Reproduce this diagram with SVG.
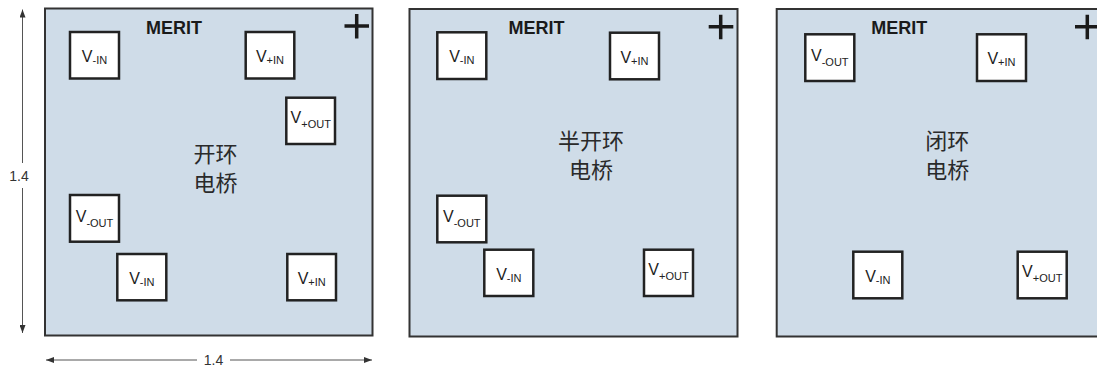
<svg xmlns="http://www.w3.org/2000/svg" width="1097" height="367" viewBox="0 0 1097 367">
<style>
.panel{fill:#cfdce8;stroke:#333;stroke-width:2}
.pad{fill:#fff;stroke:#222;stroke-width:2.5}
.lbl{font-family:"Liberation Sans",Arial,sans-serif;font-size:16px;fill:#222;text-anchor:middle}
.sub{font-size:11px}
.brand{font-family:"Liberation Sans",Arial,sans-serif;font-weight:bold;font-size:18px;fill:#1a1a1a;text-anchor:middle}
.cn{font-family:"Noto Sans CJK SC","Noto Sans",sans-serif;font-size:22px;fill:#2a2a2a;text-anchor:middle}
.plus{stroke:#1a1a1a;stroke-width:3.5;fill:none}
.dim{stroke:#555;stroke-width:1;fill:none}
.dimt{font-family:"Liberation Sans",Arial,sans-serif;font-size:14px;fill:#333;text-anchor:middle}
</style>
<defs>
<marker id="arr" viewBox="0 0 8 6" refX="8" refY="3" markerWidth="8" markerHeight="6" markerUnits="userSpaceOnUse" orient="auto-start-reverse">
<path d="M0,0 L8,3 L0,6 Z" fill="#333"/>
</marker>
</defs>

<g id="panel-open">
<rect class="panel" x="45" y="8.5" width="327.5" height="327"/>
<text class="brand" x="174" y="33.5">MERIT</text>
<path class="plus" d="M344.5,26 H369 M356.7,14 V38.5"/>
<text class="cn" x="215.5" y="162">开环<tspan x="215.5" dy="29">电桥</tspan></text>
<g id="p1-vin-top"><rect class="pad" x="70" y="32" width="49" height="46.5"/><text class="lbl" x="94.5" y="62">V<tspan class="sub" dy="2">-IN</tspan></text></g>
<g id="p1-vpin-top"><rect class="pad" x="245.7" y="32" width="48.6" height="46.5"/><text class="lbl" x="270" y="62">V<tspan class="sub" dy="2">+IN</tspan></text></g>
<g id="p1-vpout"><rect class="pad" x="286.3" y="97.7" width="48.7" height="46.3"/><text class="lbl" x="310.7" y="122.7">V<tspan class="sub" dy="5">+OUT</tspan></text></g>
<g id="p1-vout"><rect class="pad" x="70" y="195" width="49" height="46.7"/><text class="lbl" x="94.5" y="221.5">V<tspan class="sub" dy="5">-OUT</tspan></text></g>
<g id="p1-vin-bot"><rect class="pad" x="117.3" y="254" width="49" height="46.3"/><text class="lbl" x="141.8" y="284">V<tspan class="sub" dy="2">-IN</tspan></text></g>
<g id="p1-vpin-bot"><rect class="pad" x="287.3" y="254" width="48.7" height="46.3"/><text class="lbl" x="311.7" y="284">V<tspan class="sub" dy="2">+IN</tspan></text></g>
</g>

<g id="panel-half">
<rect class="panel" x="409.5" y="9" width="328" height="327.5"/>
<text class="brand" x="536.5" y="33.5">MERIT</text>
<path class="plus" d="M708.7,26.7 H733.3 M720.7,14.7 V39.3"/>
<text class="cn" x="591" y="148.5">半开环<tspan x="591" dy="29">电桥</tspan></text>
<g id="p2-vin-top"><rect class="pad" x="437.3" y="32.3" width="49" height="46.7"/><text class="lbl" x="461.8" y="62.3">V<tspan class="sub" dy="2">-IN</tspan></text></g>
<g id="p2-vpin-top"><rect class="pad" x="610" y="32.7" width="49" height="46.6"/><text class="lbl" x="634.5" y="62.7">V<tspan class="sub" dy="2">+IN</tspan></text></g>
<g id="p2-vout"><rect class="pad" x="437.3" y="195.7" width="49" height="46.6"/><text class="lbl" x="461.8" y="222">V<tspan class="sub" dy="5">-OUT</tspan></text></g>
<g id="p2-vin-bot"><rect class="pad" x="484.3" y="249.7" width="49" height="46.3"/><text class="lbl" x="508.8" y="279.7">V<tspan class="sub" dy="2">-IN</tspan></text></g>
<g id="p2-vpout-bot"><rect class="pad" x="644" y="249.7" width="49" height="46.3"/><text class="lbl" x="668.5" y="275">V<tspan class="sub" dy="5">+OUT</tspan></text></g>
</g>

<g id="panel-closed">
<rect class="panel" x="776.7" y="9" width="327" height="327.5"/>
<text class="brand" x="899.2" y="33.5">MERIT</text>
<path class="plus" d="M1075,26.7 H1099.5 M1087.3,14.7 V39.3"/>
<text class="cn" x="947.3" y="148.5">闭环<tspan x="947.3" dy="29">电桥</tspan></text>
<g id="p3-vout-top"><rect class="pad" x="805.3" y="34.3" width="49" height="46.7"/><text class="lbl" x="829.8" y="60.5">V<tspan class="sub" dy="5">-OUT</tspan></text></g>
<g id="p3-vpin-top"><rect class="pad" x="977" y="34.3" width="49" height="46.7"/><text class="lbl" x="1001.5" y="64.3">V<tspan class="sub" dy="2">+IN</tspan></text></g>
<g id="p3-vin-bot"><rect class="pad" x="853.3" y="251.7" width="49" height="46.6"/><text class="lbl" x="877.8" y="281.7">V<tspan class="sub" dy="2">-IN</tspan></text></g>
<g id="p3-vpout-bot"><rect class="pad" x="1017.7" y="251.7" width="49" height="46.6"/><text class="lbl" x="1042.2" y="277">V<tspan class="sub" dy="5">+OUT</tspan></text></g>
</g>

<g id="connectors">
<path class="dim" d="M22.5,163 V9.5" marker-end="url(#arr)"/>
<path class="dim" d="M22.5,188 V333" marker-end="url(#arr)"/>
<path class="dim" d="M197,360 H46" marker-end="url(#arr)"/>
<path class="dim" d="M230,360 H372" marker-end="url(#arr)"/>
</g>
<text id="dim-v" class="dimt" x="19" y="181">1.4</text>
<text id="dim-h" class="dimt" x="213.5" y="365">1.4</text>
</svg>
